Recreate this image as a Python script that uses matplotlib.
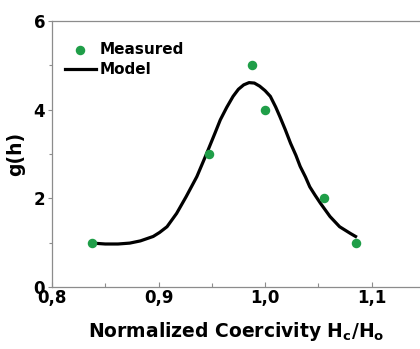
import numpy as np
import matplotlib
matplotlib.use("Agg")
import matplotlib.pyplot as plt
from matplotlib.ticker import MultipleLocator, FuncFormatter

plt.rcParams["font.family"] = "DejaVu Sans"
plt.rcParams["font.weight"] = "bold"
plt.rcParams["mathtext.fontset"] = "custom"
plt.rcParams["mathtext.rm"] = "DejaVu Sans:bold"
plt.rcParams["mathtext.default"] = "rm"

# measured distribution
h_meas = [0.838, 0.947, 0.988, 1.000, 1.055, 1.085]
g_meas = [1.0, 3.0, 5.0, 4.0, 2.0, 1.0]

# model curve
h_model = [0.838, 0.850, 0.862, 0.873, 0.883, 0.895, 0.901, 0.908, 0.917,
           0.926, 0.936, 0.945, 0.953, 0.958, 0.964, 0.970, 0.975, 0.980,
           0.985, 0.990, 0.995, 1.000, 1.005, 1.010, 1.014, 1.019, 1.024,
           1.029, 1.033, 1.038, 1.042, 1.047, 1.052, 1.061, 1.070, 1.080,
           1.085]
g_model = [0.99, 0.97, 0.97, 0.99, 1.04, 1.14, 1.23, 1.36, 1.66,
           2.04, 2.49, 3.00, 3.47, 3.77, 4.05, 4.30, 4.46, 4.56,
           4.61, 4.60, 4.53, 4.43, 4.30, 4.06, 3.84, 3.55, 3.24,
           2.97, 2.72, 2.48, 2.26, 2.07, 1.89, 1.59, 1.36, 1.21,
           1.14]

gray = "#8c8c8c"
green = "#1f9e48"

fig = plt.figure(figsize=(4.2, 3.49), dpi=100)
ax = fig.add_axes([52/420, 62/349, 368/420, 266/349])

ax.plot(h_model, g_model, color="black", lw=2.3, label="Model", zorder=2,
        solid_joinstyle="round")
ax.scatter(h_meas, g_meas, s=34, color=green, label="Measured", zorder=3)

ax.set_xlim(0.8, 1.1455)
ax.set_ylim(0, 6)

ax.xaxis.set_major_locator(MultipleLocator(0.1))
ax.xaxis.set_minor_locator(MultipleLocator(0.05))
ax.yaxis.set_major_locator(MultipleLocator(2))
ax.yaxis.set_minor_locator(MultipleLocator(1))
ax.xaxis.set_major_formatter(FuncFormatter(lambda v, p: f"{v:.1f}".replace(".", ",")))
ax.yaxis.set_major_formatter(FuncFormatter(lambda v, p: f"{v:.0f}"))

ax.tick_params(axis="x", which="major", direction="in", length=3.5, width=0.8,
               color=gray, labelsize=12, pad=1.5)
ax.tick_params(axis="x", which="minor", direction="in", length=3, width=0.8, color=gray)
ax.tick_params(axis="y", which="major", direction="out", length=3, width=0.8,
               color=gray, labelsize=12, pad=2)
ax.tick_params(axis="y", which="minor", direction="out", length=2, width=0.8, color=gray)

for side in ["left", "bottom", "top"]:
    ax.spines[side].set_color(gray)
    ax.spines[side].set_linewidth(0.9)
ax.spines["right"].set_visible(False)

ax.set_xlabel("Normalized Coercivity H$_{c}$/H$_{o}$", fontsize=13.5,
              fontweight="bold", labelpad=9)
ax.set_ylabel("g(h)", fontsize=13.5, fontweight="semibold", labelpad=6)

handles, labels = ax.get_legend_handles_labels()
ax.legend(handles[::-1], labels[::-1], loc="upper left",
          bbox_to_anchor=(13/368, 245/266), frameon=False, fontsize=11,
          borderaxespad=0, borderpad=0, handlelength=2.0, handletextpad=0.25,
          labelspacing=0.35, scatterpoints=1)

fig.savefig("out.png", dpi=100)
